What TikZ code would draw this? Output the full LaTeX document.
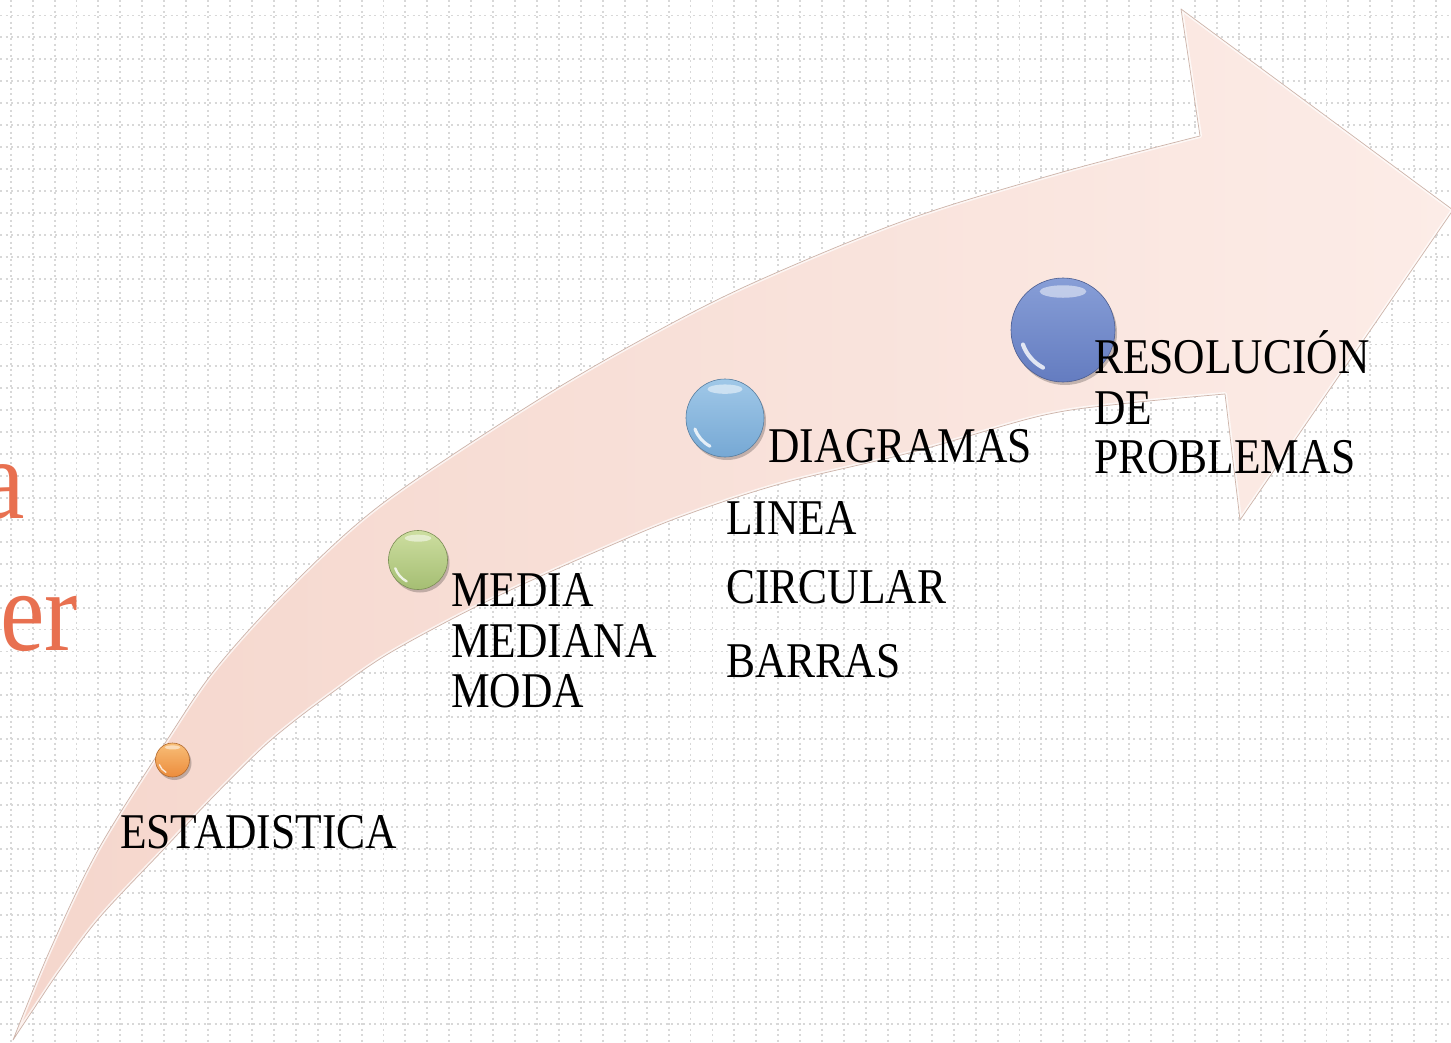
\documentclass[tikz,border=0pt]{standalone}
\usepackage{fontspec}
\setmainfont{Liberation Serif}[FakeStretch=0.87]
\begin{document}
\begin{tikzpicture}[x=1pt,y=-1pt,line join=round]
\definecolor{gridc}{RGB}{216,216,216}
\definecolor{arrowL}{RGB}{245,214,204}
\definecolor{arrowR}{RGB}{252,236,231}
\definecolor{arrowedge}{RGB}{205,180,170}
\definecolor{titlered}{RGB}{232,112,80}
\definecolor{orA}{RGB}{236,140,60}\definecolor{orB}{RGB}{248,190,120}
\definecolor{grA}{RGB}{165,190,115}\definecolor{grB}{RGB}{205,222,160}
\definecolor{lbA}{RGB}{118,168,212}\definecolor{lbB}{RGB}{160,200,232}
\definecolor{bbA}{RGB}{100,124,192}\definecolor{bbB}{RGB}{135,158,215}
\tikzset{
  gridline/.style={gridc,line width=1.9pt,dash pattern=on 2pt off 3.5pt},
  lbl/.style={anchor=base west,inner sep=0pt,font=\fontsize{50}{51}\selectfont},
  ttl/.style={anchor=base east,inner sep=0pt,font=\fontsize{115}{115}\selectfont},
  ballnode/.style={circle,inner sep=0pt,minimum size=#1,line width=0.6pt},
}
\useasboundingbox (0,0) rectangle (1451,1043);
\clip (0,0) rectangle (1451,1043);
\fill[white] (0,0) rectangle (1451,1043);
% dotted grid
\foreach \i in {0,...,66} \draw[gridline] ({10.7+21.93*\i},0) -- ({10.7+21.93*\i},1043);
\foreach \i in {0,...,47} \draw[gridline] (0,{15.5+21.93*\i}) -- (1451,{15.5+21.93*\i});
% partial title (cut off at the left edge)
\node[ttl,text=titlered] (ta) at (25,518) {a};
\node[ttl,text=titlered] (ter) at (78,650) {er};
% curved arrow
\def\arrowpath{(13,1040) -- plot[smooth,tension=0.55] coordinates {(13,1040) (50,950) (98,850) (167,740) (217,667) (290,587) (383,503) (533,403) (650,335) (753,283) (906,220) (1059,173) (1200,136)} -- (1181,9) -- (1453,210) -- (1240,520) -- (1225,394) -- plot[smooth,tension=0.55] coordinates {(1225,394) (1120,404) (1040,416) (913,452) (780,484) (680,517) (600,550) (517,587) (450,620) (383,657) (333,692) (293,722) (260,750) (210,800) (163,850) (100,917) (60,970) (33,1010) (13,1040)} -- cycle}
\shade[left color=arrowL,right color=arrowR] \arrowpath;
\begin{scope}
\clip \arrowpath;
\draw[white,opacity=.7,line width=4pt] \arrowpath;
\end{scope}
\draw[arrowedge,line width=0.7pt] \arrowpath;
% balls
\newcommand\gball[6]{%
  \fill[black,opacity=.22] ({#2+2},{#3+3}) circle (#4);
  \node[ballnode=2*#4,top color=#6,bottom color=#5,draw=#5!75!black] (#1) at (#2,#3) {};
  \fill[white,opacity=.5] ({#2},{#3-0.74*#4}) ellipse ({0.45*#4} and {0.12*#4});
  \draw[white,opacity=.8,line width={0.08*#4},line cap=round] ([shift={(118:0.82*#4)}]#2,#3) arc (118:160:0.82*#4);
}
\gball{b1}{172.5}{760}{17}{orA}{orB}
\gball{b2}{418}{560}{29.5}{grA}{grB}
\gball{b3}{725}{418}{39}{lbA}{lbB}
\gball{b4}{1063}{330}{52}{bbA}{bbB}
% labels
\node[lbl] (l1) at (120,848) {ESTADISTICA};
\node[lbl] (l2a) at (451,606) {MEDIA};
\node[lbl] (l2b) at (451,657) {MEDIANA};
\node[lbl] (l2c) at (451,707) {MODA};
\node[lbl] (l3) at (768,462) {DIAGRAMAS};
\node[lbl] (l3a) at (726,534) {LINEA};
\node[lbl] (l3b) at (726,603) {CIRCULAR};
\node[lbl] (l3c) at (726,677) {BARRAS};
\node[lbl] (l4a) at (1094,373) {RESOLUCIÓN};
\node[lbl] (l4b) at (1094,424) {DE};
\node[lbl] (l4c) at (1094,473) {PROBLEMAS};
\end{tikzpicture}
\end{document}
